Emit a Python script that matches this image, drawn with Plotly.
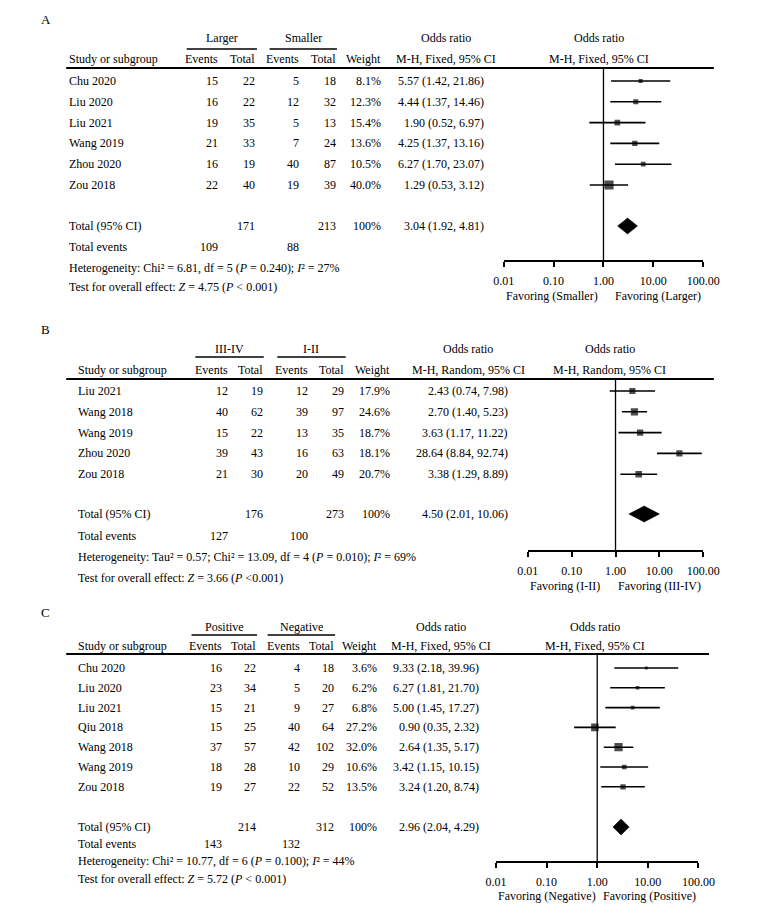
import plotly.graph_objects as go

W, H = 771, 913
PAGE_OFFSET = 8  # the page puts the plot 8 px in from the top-left corner
FONT = "Liberation Serif"
FS = 12

# ---- Panel A: tumour size (Larger vs Smaller), M-H fixed
studies_a = ["Chu 2020", "Liu 2020", "Liu 2021", "Wang 2019", "Zhou 2020", "Zou 2018"]
events1_a = [15, 16, 19, 21, 16, 22]
total1_a = [22, 22, 35, 33, 19, 40]
events2_a = [5, 12, 5, 7, 40, 19]
total2_a = [18, 32, 13, 24, 87, 39]
weight_a = [8.1, 12.3, 15.4, 13.6, 10.5, 40.0]
or_a = [5.57, 4.44, 1.90, 4.25, 6.27, 1.29]
lo_a = [1.42, 1.37, 0.52, 1.37, 1.70, 0.53]
hi_a = [21.86, 14.46, 6.97, 13.16, 23.07, 3.12]
pooled_a = [3.04, 1.92, 4.81]
sums_a = [171, 213, 109, 88]
het_a = "Heterogeneity: Chi² = 6.81, df = 5 (<i>P</i> = 0.240); <i>I</i>² = 27%"
test_a = "Test for overall effect: <i>Z</i> = 4.75 (<i>P</i> < 0.001)"
groups_a = ["Larger", "Smaller"]
method_a = "M-H, Fixed, 95% CI"

# ---- Panel B: stage (III-IV vs I-II), M-H random
studies_b = ["Liu 2021", "Wang 2018", "Wang 2019", "Zhou 2020", "Zou 2018"]
events1_b = [12, 40, 15, 39, 21]
total1_b = [19, 62, 22, 43, 30]
events2_b = [12, 39, 13, 16, 20]
total2_b = [29, 97, 35, 63, 49]
weight_b = [17.9, 24.6, 18.7, 18.1, 20.7]
or_b = [2.43, 2.70, 3.63, 28.64, 3.38]
lo_b = [0.74, 1.40, 1.17, 8.84, 1.29]
hi_b = [7.98, 5.23, 11.22, 92.74, 8.89]
pooled_b = [4.50, 2.01, 10.06]
sums_b = [176, 273, 127, 100]
het_b = "Heterogeneity: Tau² = 0.57; Chi² = 13.09, df = 4 (<i>P</i> = 0.010); <i>I</i>² = 69%"
test_b = "Test for overall effect: <i>Z</i> = 3.66 (<i>P</i> <0.001)"
groups_b = ["III-IV", "I-II"]
method_b = "M-H, Random, 95% CI"

# ---- Panel C: Positive vs Negative, M-H fixed
studies_c = ["Chu 2020", "Liu 2020", "Liu 2021", "Qiu 2018", "Wang 2018", "Wang 2019", "Zou 2018"]
events1_c = [16, 23, 15, 15, 37, 18, 19]
total1_c = [22, 34, 21, 25, 57, 28, 27]
events2_c = [4, 5, 9, 40, 42, 10, 22]
total2_c = [18, 20, 27, 64, 102, 29, 52]
weight_c = [3.6, 6.2, 6.8, 27.2, 32.0, 10.6, 13.5]
or_c = [9.33, 6.27, 5.00, 0.90, 2.64, 3.42, 3.24]
lo_c = [2.18, 1.81, 1.45, 0.35, 1.35, 1.15, 1.20]
hi_c = [39.96, 21.70, 17.27, 2.32, 5.17, 10.15, 8.74]
pooled_c = [2.96, 2.04, 4.29]
sums_c = [214, 312, 143, 132]
het_c = "Heterogeneity: Chi² = 10.77, df = 6 (<i>P</i> = 0.100); <i>I</i>² = 44%"
test_c = "Test for overall effect: <i>Z</i> = 5.72 (<i>P</i> < 0.001)"
groups_c = ["Positive", "Negative"]
method_c = "M-H, Fixed, 95% CI"

tick_vals = [0.01, 0.1, 1, 10, 100]
tick_text = ["0.01", "0.10", "1.00", "10.00", "100.00"]
null_or = 1

panels = [
    dict(label="A", studies=studies_a, ev1=events1_a, tot1=total1_a, ev2=events2_a, tot2=total2_a,
         weight=weight_a, orr=or_a, lo=lo_a, hi=hi_a, pooled=pooled_a, sums=sums_a,
         het=het_a, test=test_a, groups=groups_a, method=method_a),
    dict(label="B", studies=studies_b, ev1=events1_b, tot1=total1_b, ev2=events2_b, tot2=total2_b,
         weight=weight_b, orr=or_b, lo=lo_b, hi=hi_b, pooled=pooled_b, sums=sums_b,
         het=het_b, test=test_b, groups=groups_b, method=method_b),
    dict(label="C", studies=studies_c, ev1=events1_c, tot1=total1_c, ev2=events2_c, tot2=total2_c,
         weight=weight_c, orr=or_c, lo=lo_c, hi=hi_c, pooled=pooled_c, sums=sums_c,
         het=het_c, test=test_c, groups=groups_c, method=method_c),
]

# pixel geometry of each panel (screen pixels, top-left origin)
geometry = [
    dict(label=(29, 20), group_y=38, uline_y=49, head_y=59, hline_y=68, hline_x=(57, 729),
         row0=81, dy=20.8, total_y=226, events_y=247, het_y=268, test_y=287,
         axis_y=260, fav_y=296, x01=511, x100=718, study_x=58,
         cols=[217, 255, 301, 339, 386], under=[(182, 255), (268, 338)],
         or_right=493, or_head=451, forest_head=610),
    dict(label=(29, 329), group_y=349, uline_y=357, head_y=370, hline_y=379, hline_x=(57, 729),
         row0=391, dy=20.8, total_y=514, events_y=536, het_y=557, test_y=578,
         axis_y=550, fav_y=586, x01=536, x100=718, study_x=67,
         cols=[227, 263, 310, 347, 395], under=[(191, 262), (276, 347)],
         or_right=518, or_head=474, forest_head=621),
    dict(label=(29, 612), group_y=627, uline_y=635, head_y=646, hline_y=654, hline_x=(57, 724),
         row0=668, dy=19.8, total_y=827, events_y=844, het_y=861, test_y=879,
         axis_y=861, fav_y=896, x01=503, x100=713, study_x=67,
         cols=[221, 256, 302, 337, 382], under=[(187, 255), (266, 336)],
         or_right=487, or_head=446, forest_head=606),
]


def px(x):
    return (x - PAGE_OFFSET) / W


def py(y):
    return 1 - (y - PAGE_OFFSET) / H


def txt(fig, x, y, s, anchor="left", size=FS):
    fig.add_annotation(x=px(x), y=py(y), xref="paper", yref="paper", text=s,
                       showarrow=False, xanchor=anchor, yanchor="middle",
                       font=dict(family=FONT, size=size, color="black"))


def hline(fig, x0, x1, y, width=1.5):
    fig.add_shape(type="line", xref="paper", yref="paper",
                  x0=px(x0), x1=px(x1), y0=py(y), y1=py(y),
                  line=dict(color="black", width=width))


fig = go.Figure()

for n, (p, g) in enumerate(zip(panels, geometry), start=1):
    xa = "x" if n == 1 else f"x{n}"
    ya = "y" if n == 1 else f"y{n}"
    row_y = [g["row0"] + i * g["dy"] for i in range(len(p["studies"]))]

    # panel letter and header block
    txt(fig, g["label"][0], g["label"][1], p["label"], size=13)
    for (u0, u1), name in zip(g["under"], p["groups"]):
        txt(fig, (u0 + u1) / 2, g["group_y"], name, anchor="center")
        hline(fig, u0, u1, g["uline_y"], width=1.5)
    txt(fig, g["study_x"], g["head_y"], "Study or subgroup")
    for cx, name in zip(g["cols"], ["Events", "Total", "Events", "Total", "Weight"]):
        txt(fig, cx, g["head_y"], name, anchor="right")
    txt(fig, g["or_head"], g["group_y"], "Odds ratio", anchor="center")
    txt(fig, g["or_head"], g["head_y"], p["method"], anchor="center")
    txt(fig, g["forest_head"], g["group_y"], "Odds ratio", anchor="center")
    txt(fig, g["forest_head"], g["head_y"], p["method"], anchor="center")
    hline(fig, g["hline_x"][0], g["hline_x"][1], g["hline_y"], width=1.8)

    # study rows
    for i, y in enumerate(row_y):
        txt(fig, g["study_x"], y, p["studies"][i])
        vals = [p["ev1"][i], p["tot1"][i], p["ev2"][i], p["tot2"][i], f"{p['weight'][i]:.1f}%"]
        for cx, v in zip(g["cols"], vals):
            txt(fig, cx, y, str(v), anchor="right")
        txt(fig, g["or_right"], y,
            f"{p['orr'][i]:.2f} ({p['lo'][i]:.2f}, {p['hi'][i]:.2f})", anchor="right")

    # totals and footer
    tot1, tot2, sev1, sev2 = p["sums"]
    txt(fig, g["study_x"], g["total_y"], "Total (95% CI)")
    txt(fig, g["cols"][1], g["total_y"], str(tot1), anchor="right")
    txt(fig, g["cols"][3], g["total_y"], str(tot2), anchor="right")
    txt(fig, g["cols"][4], g["total_y"], "100%", anchor="right")
    pooled = p["pooled"]
    txt(fig, g["or_right"], g["total_y"],
        f"{pooled[0]:.2f} ({pooled[1]:.2f}, {pooled[2]:.2f})", anchor="right")
    txt(fig, g["study_x"], g["events_y"], "Total events")
    txt(fig, g["cols"][0], g["events_y"], str(sev1), anchor="right")
    txt(fig, g["cols"][2], g["events_y"], str(sev2), anchor="right")
    txt(fig, g["study_x"], g["het_y"], p["het"])
    txt(fig, g["study_x"], g["test_y"], p["test"])

    # favoring labels under the forest axis
    fav = p["groups"]
    txt(fig, g["x01"], g["fav_y"], f"Favoring ({fav[1]})", anchor="left")
    txt(fig, g["x100"], g["fav_y"], f"Favoring ({fav[0]})", anchor="right")

    # line of no effect
    fig.add_trace(go.Scatter(x=[null_or, null_or], y=[g["hline_y"], g["axis_y"]],
                             mode="lines", line=dict(color="black", width=1.3),
                             xaxis=xa, yaxis=ya, showlegend=False, hoverinfo="skip"))

    # study estimates with CIs
    fig.add_trace(go.Scatter(
        x=p["orr"], y=row_y, mode="markers",
        marker=dict(symbol="square", color="black",
                    size=[1.45 * w ** 0.5 for w in p["weight"]], line=dict(width=0)),
        error_x=dict(type="data", symmetric=False,
                     array=[h - o for h, o in zip(p["hi"], p["orr"])],
                     arrayminus=[o - l for o, l in zip(p["orr"], p["lo"])],
                     color="black", thickness=1.6, width=0),
        xaxis=xa, yaxis=ya, showlegend=False, hoverinfo="skip"))

    # pooled diamond
    ty, dh = g["total_y"], 8
    fig.add_trace(go.Scatter(
        x=[pooled[1], pooled[0], pooled[2], pooled[0], pooled[1]],
        y=[ty, ty - dh, ty, ty + dh, ty],
        mode="lines", fill="toself", fillcolor="black",
        line=dict(color="black", width=0.5),
        xaxis=xa, yaxis=ya, showlegend=False, hoverinfo="skip"))

    dom = [px(g["x01"]), px(g["x100"])]
    axis_common = dict(domain=dom, type="log", range=[-2, 2], anchor=ya,
                       tickvals=tick_vals, showgrid=False, zeroline=False,
                       ticklen=5, tickwidth=2, tickcolor="black", fixedrange=True)
    fig.update_layout({
        ("xaxis" if n == 1 else f"xaxis{n}"): dict(
            **axis_common, showline=True, linecolor="black", linewidth=2,
            ticks="outside", ticktext=tick_text, ticklabelstandoff=4,
            tickfont=dict(family=FONT, size=FS, color="black")),
        f"xaxis{n + 3}": dict(**axis_common, overlaying=xa, ticks="inside",
                              showline=False, showticklabels=False),
        ("yaxis" if n == 1 else f"yaxis{n}"): dict(
            domain=[py(g["axis_y"]), py(g["hline_y"])],
            range=[g["axis_y"], g["hline_y"]],
            visible=False, showgrid=False, zeroline=False, fixedrange=True),
    })

fig.update_layout(width=W, height=H, margin=dict(l=0, r=0, t=0, b=0),
                  paper_bgcolor="white", plot_bgcolor="white", showlegend=False,
                  font=dict(family=FONT, size=FS, color="black"))

fig.write_html("out.html")
